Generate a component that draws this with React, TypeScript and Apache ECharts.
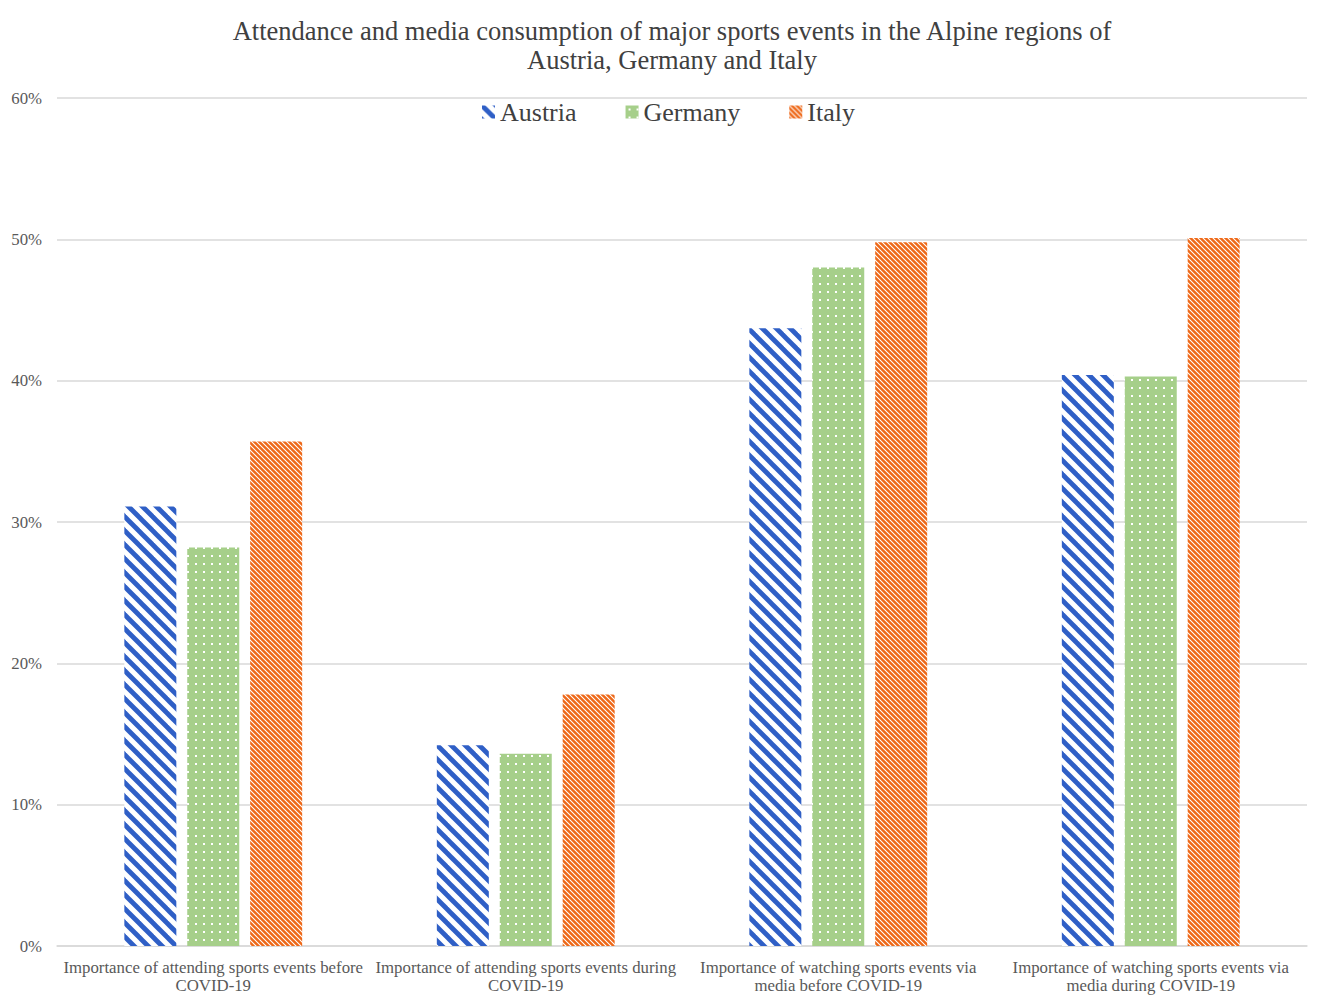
import React, { useEffect, useRef } from "react";
import * as echarts from "echarts";

const titleLines = [
  "Attendance and media consumption of major sports events in the Alpine regions of",
  "Austria, Germany and Italy",
];
const categories = [
  "Importance of attending sports events before\nCOVID-19",
  "Importance of attending sports events during\nCOVID-19",
  "Importance of watching sports events via\nmedia before COVID-19",
  "Importance of watching sports events via\nmedia during COVID-19",
];
const seriesNames = ["Austria", "Germany", "Italy"];
const austria = [31.1, 14.2, 43.7, 40.4];
const germany = [28.2, 13.6, 48.0, 40.3];
const italy = [35.7, 17.8, 49.8, 50.1];
const yTicks = [0, 10, 20, 30, 40, 50, 60];

function stripes(size: number, bg: string, fg: string, lw: number) {
  const c = document.createElement("canvas");
  c.width = size;
  c.height = size;
  const ctx = c.getContext("2d")!;
  ctx.fillStyle = bg;
  ctx.fillRect(0, 0, size, size);
  ctx.strokeStyle = fg;
  ctx.lineWidth = lw;
  for (const k of [-size, 0, size]) {
    ctx.beginPath();
    ctx.moveTo(k - size, -size);
    ctx.lineTo(k + 2 * size, 2 * size);
    ctx.stroke();
  }
  return { image: c.toDataURL(), repeat: "repeat", imageWidth: size, imageHeight: size };
}

function dots(size: number, bg: string, fg: string, d: number) {
  const c = document.createElement("canvas");
  c.width = size;
  c.height = size;
  const ctx = c.getContext("2d")!;
  ctx.fillStyle = bg;
  ctx.fillRect(0, 0, size, size);
  ctx.fillStyle = fg;
  const o = Math.floor((size - d) / 2);
  ctx.fillRect(o, o, d, d);
  return { image: c.toDataURL(), repeat: "repeat", imageWidth: size, imageHeight: size };
}

export default function App() {
  const ref = useRef<HTMLDivElement>(null);
  useEffect(() => {
    if (!ref.current) return;
    const chart = echarts.init(ref.current, null, { renderer: "svg" });
    const serif = "'Liberation Serif', 'Times New Roman', serif";
    const pAustria = stripes(14, "#ffffff", "#2f5fc6", 4.8);
    const pGermany = dots(8, "#a6cf8a", "#ffffff", 2);
    const pItaly = stripes(5, "#ee6818", "#ffffff", 1.05);
    const patterns = [pAustria, pGermany, pItaly];
    const datas = [austria, germany, italy];
    chart.setOption({
      animation: false,
      backgroundColor: "#ffffff",
      title: {
        text: titleLines.join("\n"),
        left: 667,
        textAlign: "center",
        top: 11,
        textStyle: {
          fontFamily: serif,
          fontWeight: "normal",
          fontSize: 26.5,
          lineHeight: 29,
          color: "#404040",
        },
      },
      legend: {
        data: seriesNames,
        top: 94,
        left: 477,
        icon: "rect",
        itemWidth: 13,
        itemHeight: 13,
        itemGap: 49,
        textStyle: { fontFamily: serif, fontSize: 26, color: "#404040" },
      },
      grid: { left: 57, right: 18, top: 98, bottom: 54, containLabel: false },
      xAxis: {
        type: "category",
        data: categories,
        axisTick: { show: false },
        axisLine: { lineStyle: { color: "#d9d9d9", width: 1.5 } },
        axisLabel: {
          interval: 0,
          margin: 12,
          fontFamily: serif,
          fontSize: 16.8,
          lineHeight: 18,
          color: "#595959",
        },
      },
      yAxis: {
        type: "value",
        min: yTicks[0],
        max: yTicks[yTicks.length - 1],
        interval: 10,
        axisLine: { show: false },
        axisTick: { show: false },
        splitLine: { lineStyle: { color: "#d9d9d9", width: 1.5 } },
        axisLabel: {
          formatter: "{value}%",
          margin: 15,
          fontFamily: serif,
          fontSize: 16.8,
          color: "#595959",
        },
      },
      series: seriesNames.map((name, i) => ({
        name,
        type: "bar",
        data: datas[i],
        barWidth: 52,
        barGap: "21%",
        itemStyle: { color: patterns[i] },
      })),
    });
    return () => chart.dispose();
  }, []);
  return (
    <div
      ref={ref}
      style={{ position: "absolute", left: 0, top: 0, width: 1325, height: 1000 }}
    />
  );
}
